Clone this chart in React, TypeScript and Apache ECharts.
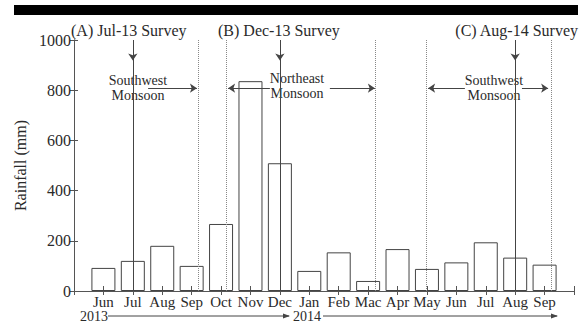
import React, { useEffect, useRef } from "react";
import * as echarts from "echarts";

const months = ["Jun", "Jul", "Aug", "Sep", "Oct", "Nov", "Dec", "Jan", "Feb", "Mac", "Apr", "May", "Jun", "Jul", "Aug", "Sep"];
const rainfall = [92, 120, 180, 100, 267, 836, 509, 80, 154, 40, 167, 88, 114, 194, 133, 105];
const seasonBoundaries = [4.23, 5.19, 10.23, 11.99, 16.21];
const surveyPositions = [2, 7, 15];
const surveyArrowTip = 918;
const monsoonArrows: [number, number][] = [
  [2.52, 4.18],
  [6.66, 5.24],
  [8.7, 10.23],
  [13.29, 12.04],
  [15.23, 16.12],
];
const monsoonArrowLevel = 808;
const surveyLabels = ["(A) Jul-13 Survey", "(B) Dec-13 Survey", "(C) Aug-14 Survey"];
const monsoonLabels = ["Southwest\nMonsoon", "Northeast\nMonsoon", "Southwest\nMonsoon"];
const yearLabels = ["2013", "2014"];

const FONT = "Liberation Serif, Times New Roman, serif";

export default function App() {
  const ref = useRef<HTMLDivElement>(null);
  useEffect(() => {
    document.body.style.margin = "0";
    const chart = echarts.init(ref.current!, null, { renderer: "svg" });
    const axisColor = "#555";
    const textColor = "#2a2a2a";
    const markData: any[] = [];
    seasonBoundaries.forEach((x) => {
      markData.push([
        { coord: [x, 0], lineStyle: { type: "dotted", color: "#888", width: 1 }, symbol: "none" },
        { coord: [x, 1000], symbol: "none" },
      ]);
    });
    surveyPositions.forEach((x) => {
      markData.push([
        { coord: [x, 1000], lineStyle: { type: "solid", color: "#444", width: 1 }, symbol: "none" },
        { coord: [x, 0], symbol: "none" },
      ]);
      markData.push([
        { coord: [x, 1000], lineStyle: { type: "solid", color: "#444", width: 1 }, symbol: "none" },
        { coord: [x, surveyArrowTip], symbol: "arrow", symbolSize: 7 },
      ]);
    });
    monsoonArrows.forEach(([a, b]) => {
      markData.push([
        { coord: [a, monsoonArrowLevel], lineStyle: { type: "solid", color: "#444", width: 1 }, symbol: "none" },
        { coord: [b, monsoonArrowLevel], symbol: "arrow", symbolSize: 7 },
      ]);
    });

    chart.setOption({
      animation: false,
      textStyle: { fontFamily: FONT },
      grid: { left: 74, right: 10, top: 40, bottom: 32 },
      xAxis: [
        {
          type: "value",
          min: 0,
          max: 17,
          interval: 1,
          position: "bottom",
          axisLine: { lineStyle: { color: axisColor } },
          axisTick: { inside: true, length: 5, lineStyle: { color: axisColor } },
          axisLabel: {
            margin: 3,
            fontSize: 15,
            color: textColor,
            fontFamily: FONT,
            formatter: (v: number) => months[v - 1] ?? "",
          },
          splitLine: { show: false },
        },
        {
          type: "value",
          min: 0,
          max: 17,
          interval: 1,
          position: "top",
          axisLine: { lineStyle: { color: axisColor } },
          axisTick: { inside: true, length: 4, lineStyle: { color: axisColor } },
          axisLabel: { show: false },
          splitLine: { show: false },
        },
      ],
      yAxis: [
        {
          type: "value",
          min: 0,
          max: 1000,
          interval: 200,
          position: "left",
          name: "Rainfall (mm)",
          nameLocation: "middle",
          nameRotate: 90,
          nameGap: 31,
          nameTextStyle: { fontSize: 16, color: textColor, fontFamily: FONT },
          axisLine: { show: true, lineStyle: { color: axisColor } },
          axisTick: { show: true, inside: true, length: 4, lineStyle: { color: axisColor } },
          axisLabel: { margin: 3, fontSize: 16, color: textColor, fontFamily: FONT, formatter: (v: number) => String(v) },
          splitLine: { show: false },
        },
        {
          type: "value",
          min: 0,
          max: 1000,
          interval: 200,
          position: "right",
          axisLine: { show: true, lineStyle: { color: axisColor } },
          axisTick: { show: true, inside: true, length: 4, lineStyle: { color: axisColor } },
          axisLabel: { show: false },
          splitLine: { show: false },
        },
      ],
      series: [
        {
          type: "bar",
          xAxisIndex: 0,
          yAxisIndex: 0,
          barWidth: 24,
          data: rainfall.map((v, i) => [i + 1, v]),
          itemStyle: { color: "rgba(0,0,0,0)", borderColor: "#444", borderWidth: 1 },
          markLine: {
            silent: true,
            symbol: "none",
            label: { show: false },
            data: markData,
          },
        },
      ],
      graphic: [
        { type: "rect", shape: { x: 14, y: 5, width: 564, height: 10 }, style: { fill: "#000" } },
        { type: "text", x: 71, y: 30, style: { text: surveyLabels[0], fontSize: 16, fontFamily: FONT, fill: textColor, verticalAlign: "middle", align: "left" } },
        { type: "text", x: 218, y: 30, style: { text: surveyLabels[1], fontSize: 16, fontFamily: FONT, fill: textColor, verticalAlign: "middle", align: "left" } },
        { type: "text", x: 578, y: 30, style: { text: surveyLabels[2], fontSize: 16, fontFamily: FONT, fill: textColor, verticalAlign: "middle", align: "right" } },
        { type: "text", x: 138, y: 87.5, style: { text: monsoonLabels[0], fontSize: 14, fontFamily: FONT, lineHeight: 15, fill: textColor, verticalAlign: "middle", align: "center" } },
        { type: "text", x: 297, y: 86, style: { text: monsoonLabels[1], fontSize: 14, fontFamily: FONT, lineHeight: 15, fill: textColor, verticalAlign: "middle", align: "center" } },
        { type: "text", x: 494, y: 87.5, style: { text: monsoonLabels[2], fontSize: 14, fontFamily: FONT, lineHeight: 15, fill: textColor, verticalAlign: "middle", align: "center" } },
        { type: "text", x: 80, y: 316, style: { text: yearLabels[0], fontSize: 14, fontFamily: FONT, fill: textColor, verticalAlign: "middle", align: "left" } },
        { type: "line", shape: { x1: 108, y1: 316, x2: 289, y2: 316 }, style: { stroke: "#444", lineWidth: 1 } },
        { type: "polygon", shape: { points: [[290, 316], [283, 313.5], [283, 318.5]] }, style: { fill: "#444" } },
        { type: "text", x: 293, y: 316, style: { text: yearLabels[1], fontSize: 14, fontFamily: FONT, fill: textColor, verticalAlign: "middle", align: "left" } },
        { type: "line", shape: { x1: 323, y1: 316, x2: 557, y2: 316 }, style: { stroke: "#444", lineWidth: 1 } },
        { type: "polygon", shape: { points: [[558, 316], [551, 313.5], [551, 318.5]] }, style: { fill: "#444" } },
      ],
    });
    return () => chart.dispose();
  }, []);
  return <div ref={ref} style={{ width: 584, height: 323 }} />;
}
